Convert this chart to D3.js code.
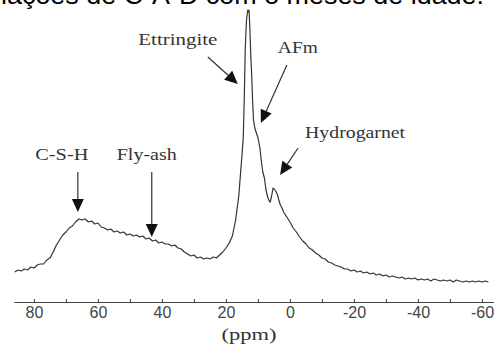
<!DOCTYPE html>
<html><head><meta charset="utf-8">
<script src="https://cdn.jsdelivr.net/npm/d3@7"></script>
<style>html,body{margin:0;padding:0;background:#fff;overflow:hidden}</style>
</head><body>
<svg id="chart" width="494" height="345"></svg>
<script>
// chemical shift (ppm) and intensity (arbitrary units)
const ppm = [86,85,84,83,82,81,80,79,78,77,76,75,74,73,72,71,70,69,68,67,66,65,64,63,62,61,60,59,58,57,56,55,54,53,52,51,50,49,48,47,46,45,44,43,42,41,40,39,38,37,36,35,34,33,32,31,30,29,28,27,26,25,24,23,22,21,20,19,18,17.5,17,16.5,16,15.5,15,14.6,14.3,14,13.6,13.2,13,12.8,12.5,12.2,12,11.7,11.4,11,10.5,10,9.4,9,8.5,8,7.5,7,6.5,6.2,5.8,5.3,5,4.5,4,3.5,3,2.5,2,1,0,-1,-2,-3,-4,-5,-6,-7,-8,-9,-10,-11,-12,-13,-14,-15,-16,-17,-18,-19,-20,-21,-22,-23,-24,-25,-26,-27,-28,-29,-30,-31,-32,-33,-34,-35,-36,-37,-38,-39,-40,-41,-42,-43,-44,-45,-46,-47,-48,-49,-50,-51,-52,-53,-54,-55,-56,-57,-58,-59,-60,-61,-62,-63,-63.7];
const intensity = [28,30,29,31,30,33,32,35,36,36,40,42,48,55,60,65,68,72,74,78,81,80,81,78,79,76,77,73,72,70,71,68,69,67,68,65,66,64,65,63,64,61,62,59,60,57,58,56,56,54,55,52,51,48,46,44,45,42,43,41,42,41,43,42,45,48,52,57,64,72,80,92,104,125,145,163,200,250,280,290,288,290,268,240,228,200,180,172,167,162,152,140,128,122,110,103,99,98,103,112,111,109,106,100,95,92,88,83,78,72,68,63,59,56,52,50,47,45,42,41,38,37,35,34,33,31,31,29,30,28,29,27,28,26,27,25,26,24,25,23,24,23,22,23,21,22,21,22,20,21,20,21,19,21,20,19,20,19,20,18,20,19,18,19,18,19,18,19,18,19,18];
const tickValues = [80,70,60,50,40,30,20,10,0,-10,-20,-30,-40,-50,-60];
const tickLabels = [80,60,40,20,0,-20,-40,-60];
const annLabels = ["C-S-H","Fly-ash","Ettringite","AFm","Hydrogarnet"];
const annPpm = [66.3,43.2,16.3,9.1,3.1];
const annInt = [88,63,216,177,125];
const titleHidden = "Corre";
const titleVisible = "lações de C-A-D com o meses de idade.";

const svg = d3.select("#chart");
const x = d3.scaleLinear().domain([86.25,-63.75]).range([14,494]);
const y = d3.scaleLinear().domain([0,290]).range([300,10]);
const axisY = 302;

// title (cropped at the top of the image)
const tFont = "'Liberation Sans',Arial,sans-serif";
svg.append("text").attr("x",1).attr("y",4).attr("text-anchor","end")
  .attr("font-family",tFont).attr("font-size",25).attr("fill","#000").text(titleHidden);
svg.append("text").attr("x",1).attr("y",4).attr("text-anchor","start")
  .attr("font-family",tFont).attr("font-size",25).attr("fill","#000")
  .attr("textLength",483).attr("lengthAdjust","spacingAndGlyphs").text(titleVisible);

// axis
const axis = d3.axisBottom(x).tickValues(tickValues).tickSizeInner(-3).tickSizeOuter(0).tickPadding(5)
  .tickFormat(d => tickLabels.includes(d) ? d : "");
const gx = svg.append("g").attr("transform",`translate(0,${axisY})`).call(axis);
gx.select(".domain").attr("stroke","#444").attr("stroke-width",1.2);
gx.selectAll(".tick line").attr("stroke","#444");
gx.selectAll(".tick text").attr("font-family","'Liberation Sans',Arial,sans-serif").attr("font-size",16).attr("fill","#444");

svg.append("text").attr("x",249).attr("y",340).attr("text-anchor","middle")
  .attr("font-family","'Liberation Serif','Times New Roman',serif").attr("font-size",17)
  .attr("textLength",55).attr("lengthAdjust","spacingAndGlyphs").attr("fill","#333").text("(ppm)");

// spectrum
const pts = ppm.map((p,i)=>[p,intensity[i]]);
svg.append("path").datum(pts)
  .attr("d", d3.line().x(d=>x(d[0])).y(d=>y(d[1])))
  .attr("fill","none").attr("stroke","#333").attr("stroke-width",1.2).attr("stroke-linejoin","round");

// annotations: start offsets (px from tip), label position
const annStyle = [
  {sx:0, sy:-40, tx:-16, ty:-52, w:53},
  {sx:0, sy:-65, tx:-5, ty:-77, w:60},
  {sx:-30, sy:-27, tx:-60, ty:-39, w:79},
  {sx:26, sy:-58, tx:37, ty:-70, w:40},
  {sx:18, sy:-27, tx:75, ty:-37, w:100}
];
annLabels.forEach((lab,i)=>{
  const tx = x(annPpm[i]), ty = y(annInt[i]);
  const s = annStyle[i];
  const x0 = tx + s.sx, y0 = ty + s.sy;
  const dx = tx - x0, dy = ty - y0, L = Math.hypot(dx,dy);
  const ux = dx/L, uy = dy/L, hl = 13, hw = 6;
  const bx = tx - ux*hl, by = ty - uy*hl;
  svg.append("line").attr("x1",x0).attr("y1",y0).attr("x2",bx).attr("y2",by)
    .attr("stroke","#333").attr("stroke-width",1.2);
  svg.append("path").attr("d",`M${tx},${ty}L${bx-uy*hw},${by+ux*hw}L${bx+uy*hw},${by-ux*hw}Z`).attr("fill","#111");
  svg.append("text").attr("x",tx+s.tx).attr("y",ty+s.ty).attr("text-anchor","middle")
    .attr("font-family","'Liberation Serif','Times New Roman',serif").attr("font-size",17)
    .attr("textLength",s.w).attr("lengthAdjust","spacingAndGlyphs").attr("fill","#333").text(lab);
});
</script>
</body></html>
